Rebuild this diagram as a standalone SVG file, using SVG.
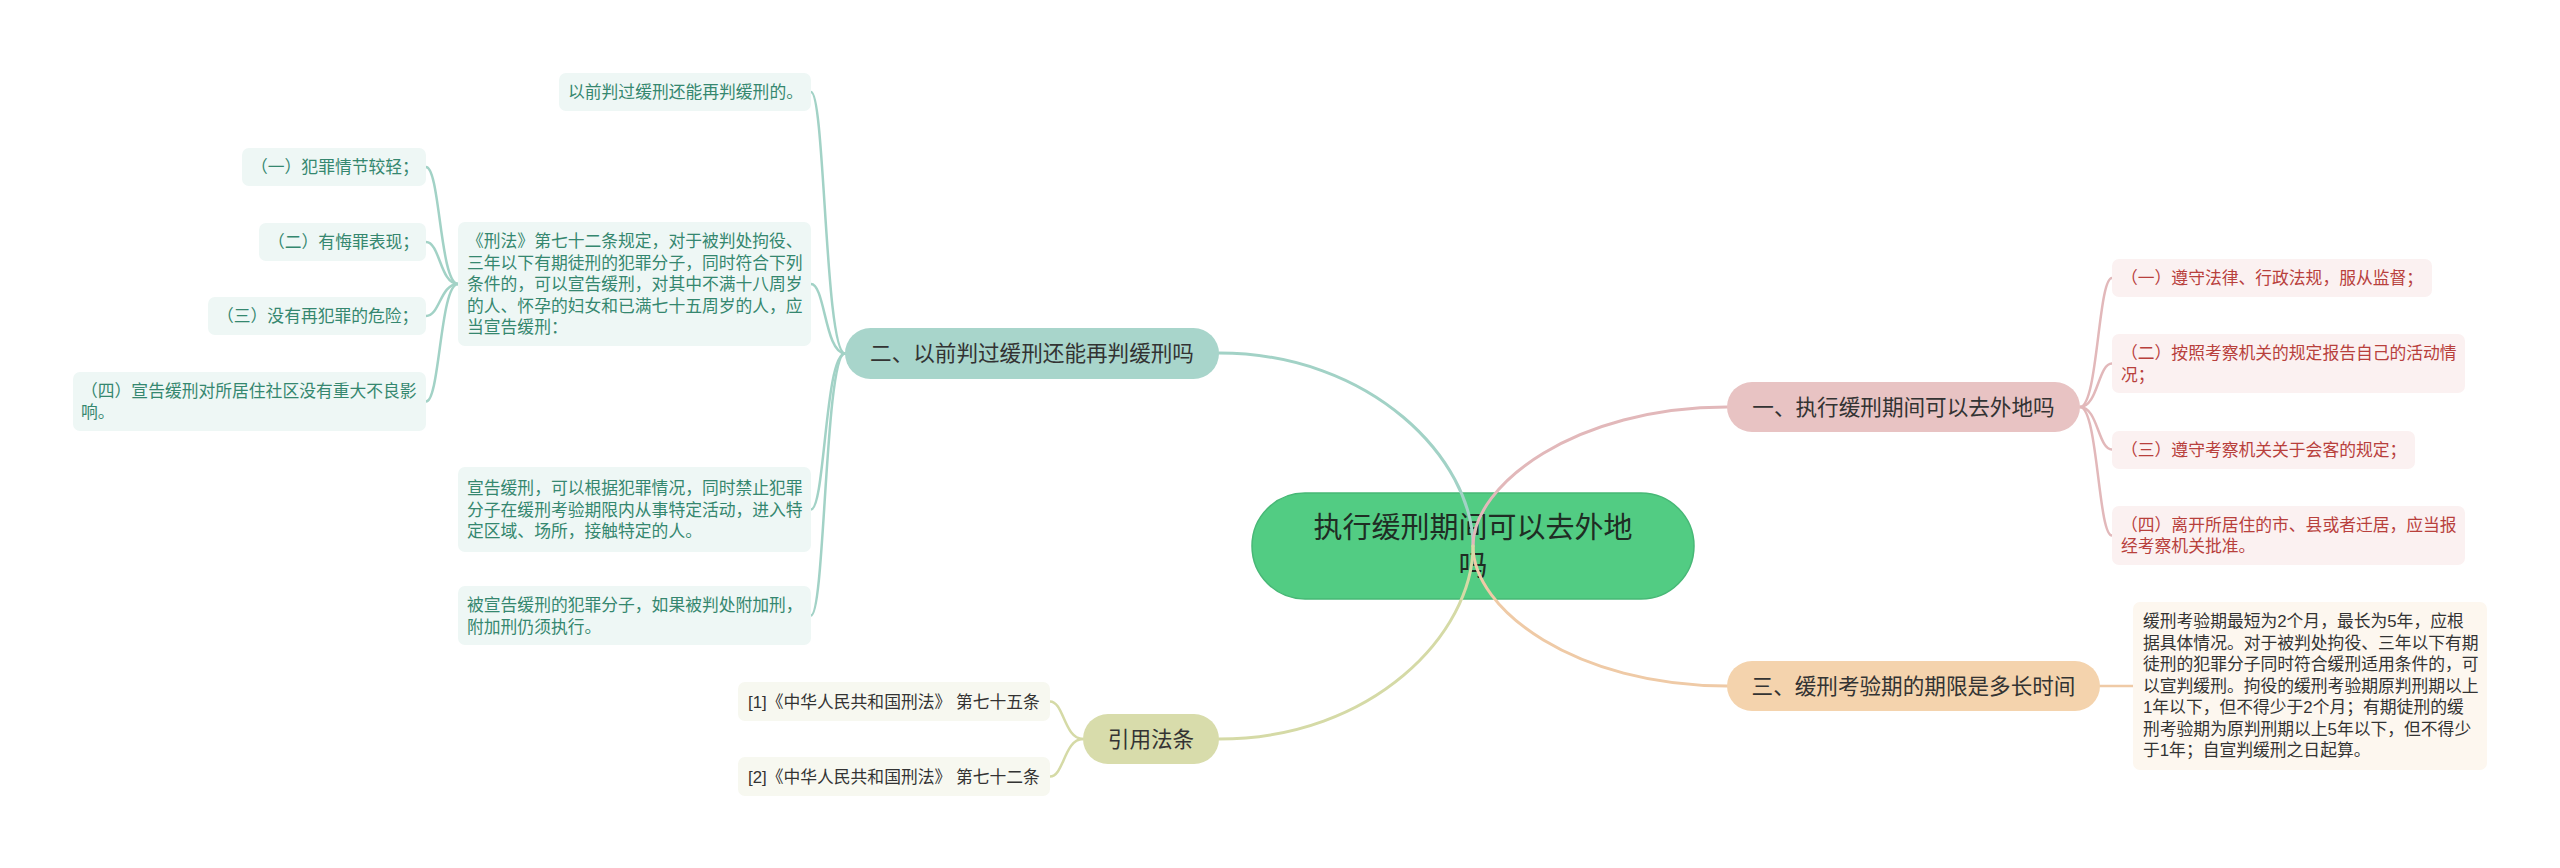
<svg xmlns="http://www.w3.org/2000/svg" width="2560" height="868" viewBox="0 0 2560 868">
<style>
text{font-family:"Liberation Sans","Noto Sans CJK SC",sans-serif;}
.leaf{font-size:16.8px;}
.tl{fill:#35876f;}
.pl{fill:#b8403c;}
.dl{fill:#333333;}
.br{font-size:21.6px;fill:#333333;text-anchor:middle;}
.ctr{font-size:29px;fill:#1f2d24;text-anchor:middle;}
.bt{fill:#eef7f5;}
.bp{fill:#fbf1f1;}
.bo{fill:#fdf7ef;}
.bg{fill:#f7f8f0;}
.c{fill:none;stroke-linecap:round;}
.ct{stroke:#a2d2c6;}
.cp{stroke:#e2b8ba;}
.co{stroke:#efcaa6;}
.cg{stroke:#d5daa6;}
.m{stroke-width:3;}
.s{stroke-width:2.5;}
</style>

<g id="center">
<rect x="1252" y="493" width="442" height="106" rx="53" fill="#52cc83" stroke="#47b876" stroke-width="1.5"/>
<text class="ctr" x="1473" y="538">执行缓刑期间可以去外地</text>
<text class="ctr" x="1473" y="575.5">吗</text>
</g>

<g id="connectors">
<path class="c ct m" d="M1473,546 C1473,460 1372,353 1219,353"/>
<path class="c cp m" d="M1473,546 C1473,484 1576,407 1727,407"/>
<path class="c co m" d="M1473,546 C1473,610 1576,686 1727,686"/>
<path class="c cg m" d="M1473,546 C1473,633 1373,739 1219,739"/>

<path class="c ct s" d="M845,353.5 C825,353.5 825,92 811,92"/>
<path class="c ct s" d="M845,353.5 C825,353.5 825,284 811,284"/>
<path class="c ct s" d="M845,353.5 C825,353.5 825,509.5 811,509.5"/>
<path class="c ct s" d="M845,353.5 C825,353.5 825,615.5 811,615.5"/>

<path class="c ct s" d="M458,284 C440,284 440,167 426,167"/>
<path class="c ct s" d="M458,284 C440,284 440,242 426,242"/>
<path class="c ct s" d="M458,284 C440,284 440,316 426,316"/>
<path class="c ct s" d="M458,284 C440,284 440,401.5 426,401.5"/>

<path class="c cp s" d="M2080,407 C2098,407 2098,278 2112,278"/>
<path class="c cp s" d="M2080,407 C2098,407 2098,363.5 2112,363.5"/>
<path class="c cp s" d="M2080,407 C2098,407 2098,449.5 2112,449.5"/>
<path class="c cp s" d="M2080,407 C2098,407 2098,535.5 2112,535.5"/>

<path class="c co s" d="M2100,686 L2133,686"/>

<path class="c cg s" d="M1083,739 C1064,739 1064,701.5 1050,701.5"/>
<path class="c cg s" d="M1083,739 C1064,739 1064,776.5 1050,776.5"/>
</g>

<g id="b2">
<rect x="845" y="328" width="374" height="51" rx="25.5" fill="#a8d5cb"/>
<text class="br" x="1032" y="361.3">二、以前判过缓刑还能再判缓刑吗</text>
</g>
<g id="b2-1">
<rect class="bt" x="559" y="73" width="252" height="38" rx="7"/>
<text class="leaf tl" x="568" y="98">以前判过缓刑还能再判缓刑的。</text>
</g>
<g id="b2-2">
<rect class="bt" x="458" y="222" width="353" height="124" rx="7"/>
<text class="leaf tl" x="467" y="247">《刑法》第七十二条规定，对于被判处拘役、</text>
<text class="leaf tl" x="467" y="268.5">三年以下有期徒刑的犯罪分子，同时符合下列</text>
<text class="leaf tl" x="467" y="290">条件的，可以宣告缓刑，对其中不满十八周岁</text>
<text class="leaf tl" x="467" y="311.5">的人、怀孕的妇女和已满七十五周岁的人，应</text>
<text class="leaf tl" x="467" y="333">当宣告缓刑：</text>
</g>
<g id="b2-2-1">
<rect class="bt" x="242" y="148" width="184" height="38" rx="7"/>
<text class="leaf tl" x="251" y="173">（一）犯罪情节较轻；</text>
</g>
<g id="b2-2-2">
<rect class="bt" x="259" y="223" width="167" height="38" rx="7"/>
<text class="leaf tl" x="268" y="248">（二）有悔罪表现；</text>
</g>
<g id="b2-2-3">
<rect class="bt" x="208" y="297" width="218" height="38" rx="7"/>
<text class="leaf tl" x="217" y="322">（三）没有再犯罪的危险；</text>
</g>
<g id="b2-2-4">
<rect class="bt" x="73" y="372" width="353" height="59" rx="7"/>
<text class="leaf tl" x="81" y="396.5">（四）宣告缓刑对所居住社区没有重大不良影</text>
<text class="leaf tl" x="81" y="418">响。</text>
</g>
<g id="b2-3">
<rect class="bt" x="458" y="467" width="353" height="85" rx="7"/>
<text class="leaf tl" x="467" y="494">宣告缓刑，可以根据犯罪情况，同时禁止犯罪</text>
<text class="leaf tl" x="467" y="515.5">分子在缓刑考验期限内从事特定活动，进入特</text>
<text class="leaf tl" x="467" y="537">定区域、场所，接触特定的人。</text>
</g>
<g id="b2-4">
<rect class="bt" x="458" y="586" width="353" height="59" rx="7"/>
<text class="leaf tl" x="467" y="611">被宣告缓刑的犯罪分子，如果被判处附加刑，</text>
<text class="leaf tl" x="467" y="632.5">附加刑仍须执行。</text>
</g>

<g id="b1">
<rect x="1727" y="382" width="353" height="50" rx="25" fill="#e8c3c3"/>
<text class="br" x="1903.5" y="414.8">一、执行缓刑期间可以去外地吗</text>
</g>
<g id="b1-1">
<rect class="bp" x="2112" y="259" width="320" height="38" rx="7"/>
<text class="leaf pl" x="2121" y="284">（一）遵守法律、行政法规，服从监督；</text>
</g>
<g id="b1-2">
<rect class="bp" x="2112" y="334" width="353" height="59" rx="7"/>
<text class="leaf pl" x="2121" y="359">（二）按照考察机关的规定报告自己的活动情</text>
<text class="leaf pl" x="2121" y="380.5">况；</text>
</g>
<g id="b1-3">
<rect class="bp" x="2112" y="431" width="303" height="38" rx="7"/>
<text class="leaf pl" x="2121" y="456">（三）遵守考察机关关于会客的规定；</text>
</g>
<g id="b1-4">
<rect class="bp" x="2112" y="506" width="353" height="59" rx="7"/>
<text class="leaf pl" x="2121" y="530.5">（四）离开所居住的市、县或者迁居，应当报</text>
<text class="leaf pl" x="2121" y="552">经考察机关批准。</text>
</g>

<g id="b3">
<rect x="1727" y="661" width="373" height="50" rx="25" fill="#f4d3ad"/>
<text class="br" x="1913.5" y="693.8">三、缓刑考验期的期限是多长时间</text>
</g>
<g id="b3-1">
<rect class="bo" x="2133" y="602" width="354" height="168" rx="7"/>
<text class="leaf dl" x="2143" y="627">缓刑考验期最短为2个月，最长为5年，应根</text>
<text class="leaf dl" x="2143" y="648.5">据具体情况。对于被判处拘役、三年以下有期</text>
<text class="leaf dl" x="2143" y="670">徒刑的犯罪分子同时符合缓刑适用条件的，可</text>
<text class="leaf dl" x="2143" y="691.5">以宣判缓刑。拘役的缓刑考验期原判刑期以上</text>
<text class="leaf dl" x="2143" y="713">1年以下，但不得少于2个月；有期徒刑的缓</text>
<text class="leaf dl" x="2143" y="734.5">刑考验期为原判刑期以上5年以下，但不得少</text>
<text class="leaf dl" x="2143" y="756">于1年；自宣判缓刑之日起算。</text>
</g>

<g id="b4">
<rect x="1083" y="714" width="136" height="50" rx="25" fill="#d8dcab"/>
<text class="br" x="1151" y="746.8">引用法条</text>
</g>
<g id="b4-1">
<rect class="bg" x="738" y="682" width="312" height="39" rx="7"/>
<text class="leaf dl" x="748" y="707.5">[1]《中华人民共和国刑法》 第七十五条</text>
</g>
<g id="b4-2">
<rect class="bg" x="738" y="757" width="312" height="39" rx="7"/>
<text class="leaf dl" x="748" y="782.5">[2]《中华人民共和国刑法》 第七十二条</text>
</g>
</svg>
